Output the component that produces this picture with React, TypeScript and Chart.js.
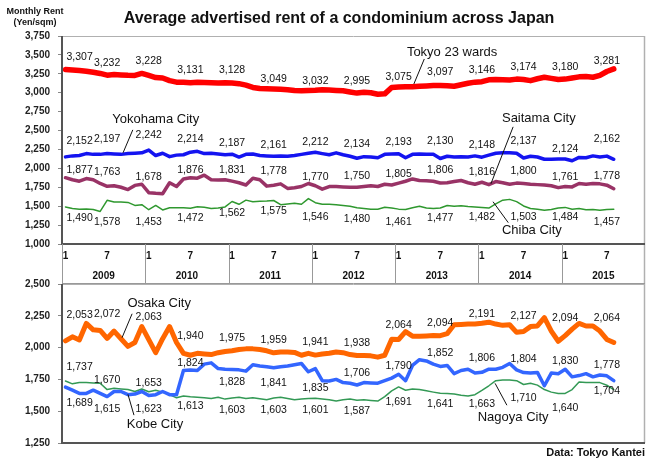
import React, { useEffect, useRef } from 'react';
import { Chart, registerables } from 'chart.js';

Chart.register(...registerables);

// ---------- data ----------
const YEARS = [2009, 2010, 2011, 2012, 2013, 2014, 2015];
const MONTH_TICKS = ['1', '7'];
const CATEGORIES = YEARS.flatMap((y) => Array.from({ length: 12 }, (_, m) => `${y}-${m + 1}`));
const LABEL_STEP = 6;

const TITLE = 'Average advertised rent of a condominium across Japan';
const Y_TITLE = ['Monthly Rent', '(Yen/sqm)'];
const SOURCE = 'Data: Tokyo Kantei';

const TOKYO = [
  3307, 3300, 3295, 3285, 3270, 3255, 3232, 3240, 3235, 3230,
  3228, 3255, 3228, 3200, 3195, 3160, 3140, 3138, 3131, 3140,
  3135, 3132, 3130, 3132, 3128, 3120, 3100, 3070, 3055, 3052,
  3049, 3045, 3040, 3030, 3025, 3030, 3032, 3040, 3035, 3030,
  3025, 3010, 2995, 3005, 3000, 2980, 2985, 3070, 3075, 3080,
  3078, 3085, 3090, 3095, 3097, 3093, 3085, 3105, 3125, 3140,
  3146, 3170, 3175, 3172, 3168, 3180, 3174, 3160, 3185, 3205,
  3190, 3175, 3180, 3195, 3210, 3215, 3205, 3230, 3281, 3315,
];
const YOKOHAMA = [
  2152, 2165, 2170, 2195, 2185, 2185, 2197, 2190, 2185, 2195,
  2200, 2205, 2242, 2170, 2200, 2155, 2175, 2180, 2214, 2225,
  2195, 2200, 2190, 2180, 2187, 2150, 2185, 2190, 2170, 2165,
  2161, 2165, 2160, 2170, 2185, 2200, 2212, 2195, 2180, 2205,
  2180, 2160, 2134, 2155, 2150, 2140, 2185, 2190, 2193, 2140,
  2185, 2190, 2188, 2185, 2130, 2160, 2150, 2155, 2150, 2165,
  2148, 2175, 2200, 2205, 2205, 2200, 2137, 2160, 2150, 2120,
  2120, 2125, 2124, 2100, 2145, 2140, 2165, 2150, 2162, 2120,
];
const SAITAMA = [
  1877, 1850, 1830, 1865, 1850, 1800, 1763, 1770, 1750, 1720,
  1775, 1790, 1678, 1670, 1665, 1810, 1760, 1860, 1876, 1870,
  1910, 1850, 1845, 1850, 1831, 1810, 1780, 1870, 1850, 1765,
  1778, 1795, 1735, 1745, 1760, 1800, 1770, 1725, 1760, 1760,
  1755, 1750, 1750, 1760, 1770, 1760, 1790, 1780, 1805, 1830,
  1860, 1840, 1835, 1830, 1806, 1810, 1825, 1840, 1810, 1790,
  1816, 1785, 1825, 1810, 1790, 1805, 1800, 1790, 1785, 1780,
  1770, 1745, 1761, 1755, 1800, 1790, 1800, 1795, 1778, 1730,
];
const CHIBA = [
  1490, 1470, 1460, 1462, 1455, 1430, 1578, 1555, 1555, 1550,
  1510, 1520, 1453, 1510, 1450, 1480, 1480, 1478, 1472, 1492,
  1485, 1470, 1475, 1490, 1562, 1525, 1580, 1560, 1565, 1568,
  1575, 1520, 1530, 1540, 1525, 1600, 1546, 1525, 1525, 1520,
  1510, 1500, 1480, 1470, 1460, 1460, 1485, 1475, 1461, 1455,
  1480, 1500, 1475, 1470, 1477, 1510, 1500, 1505, 1495, 1490,
  1482, 1475, 1530, 1580, 1590, 1560, 1503, 1470, 1460, 1445,
  1455, 1475, 1484, 1460, 1470, 1452, 1455, 1445, 1457, 1460,
];
const OSAKA = [
  2053, 2085, 2060, 2190, 2140, 2135, 2072, 2130, 2070, 2010,
  2040, 2165, 2063, 1960, 2070, 2165, 2040, 1955, 1940, 1955,
  1950, 1945, 1960, 1970, 1975, 1985, 1990, 1990, 1985, 1975,
  1959, 1965, 1965, 1962, 1940, 1955, 1941, 1950, 1955, 1965,
  1960, 1945, 1938, 1938, 1935, 1925, 1940, 2065, 2064, 2125,
  2090, 2090, 2092, 2095, 2094, 2110, 2180, 2182, 2185, 2185,
  2191, 2200, 2185, 2175, 2180, 2120, 2127, 2165, 2170, 2235,
  2130, 2050, 2094, 2145, 2190, 2170, 2170, 2130, 2064, 2040,
];
const KOBE = [
  1689, 1665, 1640, 1640, 1665, 1640, 1615, 1655, 1655, 1630,
  1635, 1655, 1623, 1630, 1655, 1630, 1630, 1820, 1824, 1820,
  1870, 1880, 1835, 1830, 1828, 1825, 1815, 1865, 1855, 1850,
  1841, 1850, 1855, 1865, 1875, 1810, 1835, 1740, 1738, 1750,
  1725, 1720, 1706, 1725, 1722, 1720, 1740, 1760, 1790, 1740,
  1860, 1905, 1895, 1870, 1852, 1860, 1795, 1820, 1830, 1800,
  1806, 1830, 1830, 1845, 1875, 1825, 1804, 1800, 1805, 1700,
  1800, 1795, 1830, 1770, 1780, 1795, 1770, 1785, 1778, 1740,
];
const NAGOYA = [
  1737, 1715, 1725, 1725, 1722, 1720, 1670, 1680, 1675, 1670,
  1655, 1675, 1653, 1665, 1650, 1630, 1605, 1620, 1613, 1610,
  1605, 1600, 1610, 1595, 1603, 1610, 1600, 1605, 1598, 1590,
  1603, 1610, 1600, 1590, 1595, 1600, 1601, 1595, 1590, 1580,
  1590, 1595, 1587, 1590, 1585, 1580, 1615, 1660, 1691, 1665,
  1675, 1670, 1660, 1650, 1641, 1640, 1635, 1625, 1620, 1630,
  1663, 1700, 1740, 1745, 1745, 1740, 1710, 1720, 1705, 1670,
  1650, 1640, 1640, 1670, 1730, 1725, 1725, 1725, 1704, 1670,
];

// ---------- styling / label placement ----------
const FONT = 'Arial, "Liberation Sans", Helvetica, sans-serif';

const TOKYO_DY = [-12, -12, -14, -13, -13, -10, -9, -12, -10, -13, -12, -12, -12, -10];
const YOKOHAMA_DY = [-16, -14, -15, -13, -11, -11, -10, -14, -12, -17, -12, -17, -10, -17];
const SAITAMA_DY = [-8, -14, -16, -8, -11, -14, -9, -11, -9, -13, -10, -12, -9, -9];
const CHIBA_DY = [11, 22, 12, 10, 12, 11, 14, 11, 13, 10, 10, 11, 10, 13];
const OSAKA_DY = [-26, -24, -22, -19, -13, -13, -13, -12, -14, -13, -9, -15, -18, -21];
const KOBE_DY = [16, 13, 14, -7, 13, 15, 20, -12, -8, -13, -14, -13, -8, -11];
const NAGOYA_DY = [-14, -9, -9, 9, 12, 12, 12, 11, 15, 11, 14, 14, 15, 6];

type Series = { name: string; data: number[]; color: string; width: number; dy: number[] };
type Tag = { text: string; at: [number, number]; from: [number, number]; to: [number, number] };

const TOP_SERIES: Series[] = [
  { name: 'Tokyo 23 wards', data: TOKYO, color: '#ff0000', width: 5.5, dy: TOKYO_DY },
  { name: 'Yokohama City', data: YOKOHAMA, color: '#1414f0', width: 3.5, dy: YOKOHAMA_DY },
  { name: 'Saitama City', data: SAITAMA, color: '#993366', width: 3.5, dy: SAITAMA_DY },
  { name: 'Chiba City', data: CHIBA, color: '#2f982f', width: 1.5, dy: CHIBA_DY },
];
const BOTTOM_SERIES: Series[] = [
  { name: 'Osaka City', data: OSAKA, color: '#ff6600', width: 5, dy: OSAKA_DY },
  { name: 'Kobe City', data: KOBE, color: '#3366ff', width: 3.5, dy: KOBE_DY },
  { name: 'Nagoya City', data: NAGOYA, color: '#339955', width: 1.5, dy: NAGOYA_DY },
];

// name tags in data coordinates: [category index, value]
const TOP_TAGS: Tag[] = [
  { text: 'Tokyo 23 wards', at: [55.7, 3539], from: [51.7, 3446], to: [50.2, 3116] },
  { text: 'Yokohama City', at: [13.0, 2641], from: [9.7, 2509], to: [8.3, 2206] },
  { text: 'Saitama City', at: [68.2, 2654], from: [64.5, 2549], to: [61.3, 1796] },
  { text: 'Chiba City', at: [67.2, 1176], from: [61.6, 1559], to: [63.8, 1282] },
];
const BOTTOM_TAGS: Tag[] = [
  { text: 'Osaka City', at: [13.5, 2344], from: [9.6, 2266], to: [8.15, 2078] },
  { text: 'Kobe City', at: [12.9, 1399], from: [9.0, 1633], to: [9.87, 1469] },
  { text: 'Nagoya City', at: [64.5, 1453], from: [61.9, 1719], to: [63.6, 1547] },
];

const fmt = (v: number) => Number(v).toLocaleString('en-US');

function line(ctx: CanvasRenderingContext2D, x1: number, y1: number, x2: number, y2: number, color: string, w: number) {
  ctx.beginPath();
  ctx.strokeStyle = color;
  ctx.lineWidth = w;
  ctx.moveTo(x1, y1);
  ctx.lineTo(x2, y2);
  ctx.stroke();
}

function drawValueLabels(chart: any, series: Series[]) {
  const { ctx } = chart;
  const xs = chart.scales.x;
  const ys = chart.scales.y;
  ctx.save();
  ctx.font = `10.5px ${FONT}`;
  ctx.fillStyle = '#111';
  ctx.textBaseline = 'middle';
  series.forEach((s) => {
    s.dy.forEach((dy, k) => {
      const i = k * LABEL_STEP;
      if (i >= s.data.length) return;
      const x = xs.getPixelForValue(i);
      const y = ys.getPixelForValue(s.data[i]) + dy;
      ctx.textAlign = i === 0 ? 'left' : 'center';
      ctx.fillText(fmt(s.data[i]), i === 0 ? x + 1 : x, y);
    });
  });
  ctx.restore();
}

function xAt(xs: any, idx: number) {
  const p0 = xs.getPixelForValue(0);
  const p1 = xs.getPixelForValue(1);
  return p0 + (p1 - p0) * idx;
}

function drawTags(chart: any, tags: Tag[]) {
  const { ctx } = chart;
  const xs = chart.scales.x;
  const ys = chart.scales.y;
  ctx.save();
  ctx.font = `13px ${FONT}`;
  ctx.fillStyle = '#111';
  ctx.textAlign = 'center';
  ctx.textBaseline = 'middle';
  tags.forEach((t) => {
    ctx.fillText(t.text, xAt(xs, t.at[0]), ys.getPixelForValue(t.at[1]));
    line(ctx, xAt(xs, t.from[0]), ys.getPixelForValue(t.from[1]), xAt(xs, t.to[0]), ys.getPixelForValue(t.to[1]), '#111', 1);
  });
  ctx.restore();
}

function drawFrame(chart: any, bottomDarkTo: number) {
  const { ctx, chartArea: a } = chart;
  ctx.save();
  line(ctx, a.left, a.top + 0.5, a.right, a.top + 0.5, '#b0b0b0', 1);
  line(ctx, a.right - 0.5, a.top, a.right - 0.5, bottomDarkTo, '#b0b0b0', 1.5);
  line(ctx, a.left, a.top, a.left, a.bottom + 1, '#555', 2);
  line(ctx, a.left - 1, a.bottom, a.right, a.bottom, '#555', 2);
  ctx.restore();
}

const topPlugin = {
  id: 'topDecor',
  afterDraw(chart: any) {
    const { ctx, chartArea: a } = chart;
    const xs = chart.scales.x;
    const H = chart.height;
    ctx.save();
    ctx.fillStyle = '#111';
    ctx.textAlign = 'center';
    ctx.textBaseline = 'middle';
    ctx.font = `bold 16px ${FONT}`;
    ctx.fillText(TITLE, 339, 19);
    ctx.font = `bold 9px ${FONT}`;
    ctx.fillText(Y_TITLE[0], 35, 12);
    ctx.fillText(Y_TITLE[1], 35, 23);

    drawFrame(chart, H);
    // x label table
    const half = (xs.getPixelForValue(1) - xs.getPixelForValue(0)) / 2;
    line(ctx, a.left + 0.5, a.bottom, a.left + 0.5, H, '#999', 1);
    line(ctx, a.left, H - 0.5, a.right, H - 0.5, '#999', 1);
    ctx.fillStyle = '#111';
    YEARS.forEach((yr, k) => {
      const base = k * 12;
      if (k > 0) {
        const xb = Math.round(xs.getPixelForValue(base) - half) + 0.5;
        line(ctx, xb, a.bottom, xb, H, '#999', 1);
      }
      ctx.font = `bold 10px ${FONT}`;
      MONTH_TICKS.forEach((m, j) => {
        ctx.fillText(m, xs.getPixelForValue(base + j * LABEL_STEP), a.bottom + 12);
      });
      const xc = (xs.getPixelForValue(base + 5) + xs.getPixelForValue(base + 6)) / 2;
      ctx.fillText(String(yr), xc, a.bottom + 32);
    });
    ctx.restore();

    drawValueLabels(chart, TOP_SERIES);
    drawTags(chart, TOP_TAGS);
  },
};

const bottomPlugin = {
  id: 'bottomDecor',
  afterDraw(chart: any) {
    const { ctx, chartArea: a } = chart;
    drawFrame(chart, a.bottom);
    drawValueLabels(chart, BOTTOM_SERIES);
    drawTags(chart, BOTTOM_TAGS);
    ctx.save();
    ctx.font = `bold 11px ${FONT}`;
    ctx.fillStyle = '#111';
    ctx.textAlign = 'right';
    ctx.textBaseline = 'middle';
    ctx.fillText(SOURCE, a.right, a.bottom + 10);
    ctx.restore();
  },
};

function makeConfig(series: Series[], min: number, max: number, padding: any, plugin: any): any {
  return {
    type: 'line',
    data: {
      labels: CATEGORIES,
      datasets: series.map((s) => ({
        label: s.name,
        data: s.data,
        borderColor: s.color,
        backgroundColor: s.color,
        borderWidth: s.width,
        pointRadius: 0,
        tension: 0,
        fill: false,
        borderJoinStyle: 'round',
        borderCapStyle: 'round',
      })),
    },
    options: {
      responsive: false,
      animation: false,
      devicePixelRatio: 1,
      layout: { padding },
      events: [],
      plugins: { legend: { display: false }, title: { display: false }, tooltip: { enabled: false } },
      scales: {
        x: { type: 'category', offset: true, display: false },
        y: {
          min,
          max,
          afterFit: (s: any) => {
            s.width = 62;
          },
          ticks: {
            stepSize: 250,
            autoSkip: false,
            padding: 8,
            color: '#222',
            font: { family: FONT, size: 10, weight: 'bold' },
            callback: (v: any) => fmt(v),
          },
          grid: { display: true, drawOnChartArea: false, drawTicks: true, tickLength: 4, color: '#888' },
          border: { display: false },
        },
      },
    },
    plugins: [plugin],
  };
}

export default function App() {
  const topRef = useRef<HTMLCanvasElement>(null);
  const botRef = useRef<HTMLCanvasElement>(null);
  useEffect(() => {
    const c1 = new Chart(
      topRef.current as HTMLCanvasElement,
      makeConfig(TOP_SERIES, 1000, 3750, { left: 0, right: 10, top: 36, bottom: 40 }, topPlugin)
    );
    const c2 = new Chart(
      botRef.current as HTMLCanvasElement,
      makeConfig(BOTTOM_SERIES, 1250, 2500, { left: 0, right: 10, top: 13, bottom: 33 }, bottomPlugin)
    );
    return () => {
      c1.destroy();
      c2.destroy();
    };
  }, []);
  return (
    <div style={{ position: 'absolute', left: 0, top: 0, width: 655, height: 476, background: '#fff' }}>
      <canvas ref={topRef} width={655} height={284} style={{ position: 'absolute', left: 0, top: 0 }} />
      <canvas ref={botRef} width={655} height={206} style={{ position: 'absolute', left: 0, top: 270 }} />
    </div>
  );
}
